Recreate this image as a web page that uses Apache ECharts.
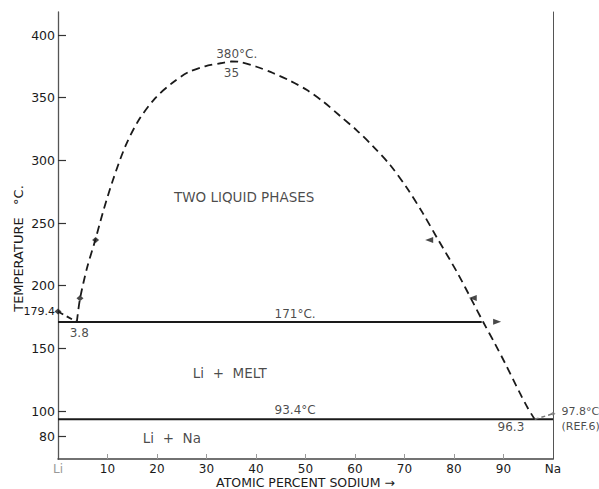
<!DOCTYPE html>
<html><head><meta charset="utf-8">
<script src="https://cdn.jsdelivr.net/npm/echarts@6/dist/echarts.min.js"></script>
<style>html,body{margin:0;padding:0;background:#fff}#c{width:599px;height:489px}</style>
</head><body><div id="c"></div>
<script>
// ---- data ----
const xLabelValues = [0,10,20,30,40,50,60,70,80,90,100];
const xTickValues = [10,20,30,40,50,60,70,80,90];
const xEndNames = {0:'Li',100:'Na'};
const yTickValues = [80,100,150,200,250,300,350,400];
const yLabelValues = [80,100,150,179.4,200,250,300,350,400];

// Li liquidus: Li melting point down to monotectic
const liBranchX = [0, 3.8];
const liBranchT = [179.4, 171];

// two-liquid miscibility dome and Na-side liquidus
const domeX = [3.8, 4.44, 5.86, 7.47, 9.09, 11.1, 13.54, 16.2, 19.6, 23.0, 26.3, 29.7, 33.1, 35, 36.77, 40.1, 43.43, 46.9, 50.3, 53.6, 57.0, 60.3, 63.6, 67.1, 70.5, 73.7, 76.6, 80.6, 83.8, 85.9, 88.3, 90.3, 93.3, 94.9, 96.3];
const domeT = [171, 189.4, 214.1, 235.6, 258.8, 284.3, 310.6, 331.4, 349.5, 361.5, 370.3, 375.1, 377.7, 378.9, 378.5, 374.7, 369.7, 363.5, 356.1, 346.8, 335.4, 324.2, 311.4, 296.3, 277.9, 257.9, 238.0, 210.9, 186.9, 171.0, 153.5, 138.3, 114.4, 102.4, 93.4];

// Na liquidus: eutectic to Na melting point
const naBranchX = [96.3, 100];
const naBranchT = [93.4, 97.8];

// isotherms
const monotecticX = [0, 85.6];
const monotecticT = 171;
const eutecticX = [0, 100];
const eutecticT = 93.4;

// experimental points
const diamondX = [0, 4.44, 7.6];
const diamondT = [179.4, 189.9, 236.4];
const leftArrowX = [75.8, 84.6];
const leftArrowT = [236.4, 190.2];
const rightArrowX = [87.9];
const rightArrowT = [171.3];
const naPointX = [100];
const naPointT = [97.8];
const naPointText = '97.8°C\n(REF.6)';

// annotations
const noteText = ['380°C.', '35', 'TWO LIQUID PHASES', '171°C.', 'Li  +  MELT', '93.4°C', 'Li  +  Na', '96.3', '3.8'];
const noteX = [36.1, 35.05, 37.6, 47.9, 34.7, 47.9, 23.0, 91.5, 4.3];
const noteT = [384.8, 370.0, 271.0, 177.4, 130.6, 100.8, 78.5, 87.5, 161.9];
const noteIsWord = [false, false, true, false, true, false, true, false, false];

const yMin = 61.7, yMax = 418.4;

// ---- chart ----
const FONT = 'DejaVu Sans';
const INK = '#1a1a1a';
const zip = (xs, ys) => xs.map((x, i) => [x, Array.isArray(ys) ? ys[i] : ys]);

const chart = echarts.init(document.getElementById('c'), null, {renderer: 'svg'});
chart.setOption({
  animation: false,
  backgroundColor: '#fff',
  textStyle: {fontFamily: FONT},
  grid: {left: 58, right: 46, top: 12, bottom: 30, containLabel: false, outerBoundsMode: 'none'},
  xAxis: {
    type: 'value', min: 0, max: 100,
    name: 'ATOMIC PERCENT SODIUM →', nameLocation: 'middle', nameGap: 17, nameMoveOverlap: false,
    nameTextStyle: {fontFamily: FONT, fontSize: 12.5, lineHeight: 13, color: INK},
    axisLine: {show: true, lineStyle: {color: '#444', width: 1.5}},
    axisTick: {show: true, inside: true, length: 5, customValues: xTickValues, lineStyle: {color: '#999', width: 1}},
    axisLabel: {
      customValues: xLabelValues, margin: 3, fontFamily: FONT, fontSize: 12, lineHeight: 13, color: INK,
      formatter: v => xEndNames[v] !== undefined ? (v === 0 ? '{li|Li}' : 'Na') : String(v),
      rich: {li: {color: '#999', fontFamily: FONT, fontSize: 12, lineHeight: 13}}
    },
    splitLine: {show: false}
  },
  yAxis: [{
    type: 'value', min: yMin, max: yMax,
    name: 'TEMPERATURE   °C.', nameLocation: 'middle', nameGap: 33, nameRotate: 90, nameMoveOverlap: false,
    nameTextStyle: {fontFamily: FONT, fontSize: 13, color: INK, padding: [0, 26, 0, 0]},
    axisLine: {show: true, lineStyle: {color: '#555', width: 1.3}},
    axisTick: {show: true, inside: true, length: 8, customValues: yTickValues, lineStyle: {color: '#333', width: 1.2}},
    axisLabel: {
      customValues: yLabelValues, margin: 3, fontFamily: FONT, fontSize: 12.5, color: INK,
      formatter: v => v === 179.4 ? '{s|179.4}' : String(v),
      rich: {s: {fontSize: 11, fontFamily: FONT, color: INK}}
    },
    splitLine: {show: false}
  }, {
    type: 'value', min: yMin, max: yMax, position: 'right',
    axisLine: {show: true, lineStyle: {color: '#555', width: 1}},
    axisTick: {show: false}, axisLabel: {show: false}, splitLine: {show: false}
  }],
  series: [
    {type: 'line', data: zip(monotecticX, monotecticT), symbol: 'none', silent: true,
     lineStyle: {color: INK, width: 2}},
    {type: 'line', data: zip(eutecticX, eutecticT), symbol: 'none', silent: true,
     lineStyle: {color: INK, width: 2}},
    {type: 'line', data: zip(liBranchX, liBranchT), symbol: 'none', silent: true,
     lineStyle: {color: INK, width: 1.8, type: [6, 4]}},
    {type: 'line', data: zip(domeX, domeT), symbol: 'none', silent: true, smooth: 0.3,
     lineStyle: {color: INK, width: 1.8, type: [8, 5]}},
    {type: 'line', data: zip(naBranchX, naBranchT), symbol: 'none', silent: true,
     lineStyle: {color: '#777', width: 1.5, type: [4, 3]}},
    {type: 'scatter', data: zip(diamondX, diamondT), symbol: 'diamond', symbolSize: [7, 6], silent: true,
     itemStyle: {color: INK}, clip: false},
    {type: 'scatter', data: zip(leftArrowX, leftArrowT), symbol: 'triangle', symbolSize: [6, 8], symbolRotate: 90,
     symbolOffset: [-4, 0], silent: true, itemStyle: {color: INK}},
    {type: 'scatter', data: zip(rightArrowX, rightArrowT), symbol: 'triangle', symbolSize: [6, 8], symbolRotate: -90,
     symbolOffset: [4, 0], silent: true, itemStyle: {color: INK}},
    {type: 'scatter', data: zip(naPointX, naPointT), symbol: 'diamond', symbolSize: [5, 4], silent: true, clip: false,
     itemStyle: {color: '#777'},
     label: {show: true, position: 'right', distance: 6, offset: [0, 5], formatter: naPointText,
             fontFamily: FONT, fontSize: 11, lineHeight: 15, color: INK}},
    {type: 'scatter', data: noteX.map((x, i) => ({
        value: [x, noteT[i]], name: noteText[i],
        label: {fontSize: noteIsWord[i] ? 13.5 : 12}
     })),
     symbolSize: 0, silent: true, clip: false,
     label: {show: true, position: 'inside', formatter: p => p.name, fontFamily: FONT, fontSize: 12, color: INK}}
  ]
});
</script></body></html>
